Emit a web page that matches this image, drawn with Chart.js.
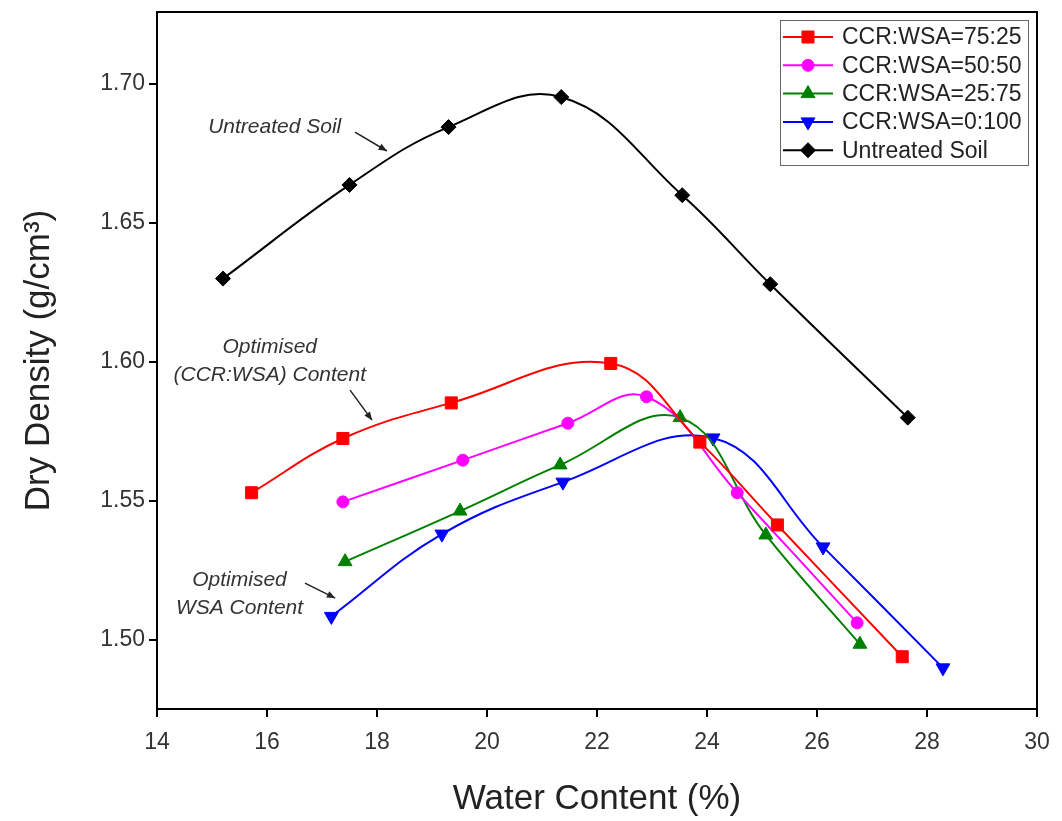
<!DOCTYPE html>
<html>
<head>
<meta charset="utf-8">
<script src="https://cdn.jsdelivr.net/npm/chart.js@4.4.1/dist/chart.umd.min.js"></script>
<style>
html, body { margin: 0; padding: 0; background: #fff; }
#wrap { width: 1062px; height: 821px; }
</style>
</head>
<body>
<div id="wrap"><canvas id="compactionChart" width="1062" height="821"></canvas></div>
<script>
// values
const seriesNames = ['CCR:WSA=75:25', 'CCR:WSA=50:50', 'CCR:WSA=25:75', 'CCR:WSA=0:100', 'Untreated Soil'];

const water7525 = [15.72, 17.38, 19.35, 22.25, 23.87, 25.28, 27.55];
const density7525 = [1.553, 1.5725, 1.5853, 1.5995, 1.5712, 1.5414, 1.494];

const water5050 = [17.38, 19.56, 21.47, 22.9, 24.55, 26.73];
const density5050 = [1.5497, 1.5647, 1.578, 1.5875, 1.553, 1.5062];

const water2575 = [17.42, 19.51, 21.33, 23.51, 25.07, 26.78];
const density2575 = [1.5282, 1.5464, 1.563, 1.58, 1.5378, 1.4985];

const water0100 = [17.17, 19.18, 21.38, 24.11, 26.11, 28.29];
const density0100 = [1.5085, 1.5381, 1.5568, 1.5727, 1.5335, 1.49];

const waterUntreated = [15.2, 17.5, 19.3, 21.35, 23.55, 25.15, 27.65];
const densityUntreated = [1.63, 1.6637, 1.6845, 1.6953, 1.66, 1.628, 1.58];

const xTicks = [14, 16, 18, 20, 22, 24, 26, 28, 30];
const yTicks = [1.50, 1.55, 1.60, 1.65, 1.70];

// callout texts, placed in data coordinates
const notes = [
    { lines: ['Untreated Soil'], x: 16.14, y: 1.6845, arrow: [17.6, 1.6827, 18.18, 1.6759] },
    { lines: ['Optimised', '(CCR:WSA) Content'], x: 16.05, y: 1.6054, arrow: [17.51, 1.5899, 17.91, 1.5791] },
    { lines: ['Optimised', 'WSA Content'], x: 15.5, y: 1.5216, arrow: [16.69, 1.5205, 17.24, 1.5151] }
];

const FONT = '"Liberation Sans", Arial, sans-serif';

function pairs(xs, ys) {
    return xs.map((x, i) => ({ x: x, y: ys[i] }));
}

function series(label, xs, ys, color, style, radius, rotation) {
    return {
        label: label,
        data: pairs(xs, ys),
        showLine: true,
        tension: 0.4,
        borderColor: color,
        borderWidth: 2,
        pointStyle: style,
        pointRadius: radius,
        pointHoverRadius: radius,
        pointRotation: rotation || 0,
        pointBackgroundColor: color,
        pointBorderColor: color,
        pointBorderWidth: 1
    };
}

const frameLines = {
    id: 'frameLines',
    afterDraw(chart) {
        const { ctx, chartArea: a } = chart;
        ctx.save();
        ctx.strokeStyle = '#000';
        ctx.lineWidth = 2;
        ctx.beginPath();
        ctx.moveTo(a.left, a.top);
        ctx.lineTo(a.right, a.top);
        ctx.lineTo(a.right, a.bottom);
        ctx.stroke();
        ctx.restore();
    }
};

const callouts = {
    id: 'callouts',
    afterDraw(chart) {
        const ctx = chart.ctx;
        const xs = chart.scales.x;
        const ys = chart.scales.y;
        ctx.save();
        ctx.strokeStyle = '#222';
        ctx.font = 'italic 21px ' + FONT;
        ctx.textAlign = 'center';
        ctx.textBaseline = 'middle';
        notes.forEach((n) => {
            const px = xs.getPixelForValue(n.x);
            const py = ys.getPixelForValue(n.y);
            ctx.fillStyle = '#333';
            n.lines.forEach((t, i) => ctx.fillText(t, px, py + i * 28));

            const x1 = xs.getPixelForValue(n.arrow[0]);
            const y1 = ys.getPixelForValue(n.arrow[1]);
            const x2 = xs.getPixelForValue(n.arrow[2]);
            const y2 = ys.getPixelForValue(n.arrow[3]);
            const ang = Math.atan2(y2 - y1, x2 - x1);
            ctx.lineWidth = 1.5;
            ctx.beginPath();
            ctx.moveTo(x1, y1);
            ctx.lineTo(x2, y2);
            ctx.stroke();
            ctx.beginPath();
            ctx.moveTo(x2, y2);
            ctx.lineTo(x2 - 9 * Math.cos(ang - 0.4), y2 - 9 * Math.sin(ang - 0.4));
            ctx.lineTo(x2 - 9 * Math.cos(ang + 0.4), y2 - 9 * Math.sin(ang + 0.4));
            ctx.closePath();
            ctx.fillStyle = '#222';
            ctx.fill();
        });
        ctx.restore();
    }
};

const legendBox = {
    id: 'legendBox',
    afterDraw(chart) {
        const ctx = chart.ctx;
        const x0 = 780, y0 = 20, w = 248, h = 145;
        ctx.save();
        ctx.strokeStyle = '#666';
        ctx.lineWidth = 1;
        ctx.strokeRect(x0 + 0.5, y0 + 0.5, w, h);
        ctx.font = '23px ' + FONT;
        ctx.textAlign = 'left';
        ctx.textBaseline = 'middle';
        chart.data.datasets.forEach((ds, i) => {
            const y = y0 + 17 + i * 28.3;
            ctx.strokeStyle = ds.borderColor;
            ctx.lineWidth = 2;
            ctx.beginPath();
            ctx.moveTo(x0 + 3, y);
            ctx.lineTo(x0 + 53, y);
            ctx.stroke();
            ctx.fillStyle = ds.pointBackgroundColor;
            ctx.strokeStyle = ds.pointBorderColor;
            ctx.lineWidth = 1;
            Chart.helpers.drawPoint(ctx, {
                pointStyle: ds.pointStyle,
                rotation: ds.pointRotation,
                radius: ds.pointRadius,
                borderWidth: 1
            }, x0 + 28, y);
            ctx.fillStyle = '#222';
            ctx.fillText(ds.label, x0 + 62, y + 1);
        });
        ctx.restore();
    }
};

const tickFont = { family: FONT, size: 23 };

new Chart(document.getElementById('compactionChart'), {
    type: 'scatter',
    data: {
        datasets: [
            series(seriesNames[0], water7525, density7525, '#ff0000', 'rect', 8.5),
            series(seriesNames[1], water5050, density5050, '#ff00ff', 'circle', 6),
            series(seriesNames[2], water2575, density2575, '#008000', 'triangle', 8),
            series(seriesNames[3], water0100, density0100, '#0000ff', 'triangle', 8, 180),
            series(seriesNames[4], waterUntreated, densityUntreated, '#000000', 'rectRot', 7.5)
        ]
    },
    options: {
        responsive: false,
        animation: false,
        layout: { padding: { left: 0, right: 25, top: 12, bottom: 0 } },
        plugins: {
            legend: { display: false },
            tooltip: { enabled: false }
        },
        scales: {
            x: {
                type: 'linear',
                min: 14,
                max: 30,
                afterBuildTicks: (s) => { s.ticks = xTicks.map((v) => ({ value: v })); },
                afterFit: (s) => { s.height = 112; s.paddingLeft = 0; s.paddingRight = 0; },
                ticks: { font: tickFont, color: '#333', padding: 12 },
                grid: { drawOnChartArea: false, drawTicks: true, tickLength: 8, color: '#000', lineWidth: 2 },
                border: { display: true, color: '#000', width: 2 },
                title: {
                    display: true,
                    text: 'Water Content (%)',
                    font: { family: FONT, size: 35 },
                    color: '#222',
                    padding: { top: 0, bottom: 1 }
                }
            },
            y: {
                type: 'linear',
                min: 1.4752,
                max: 1.7259,
                afterBuildTicks: (s) => { s.ticks = yTicks.map((v) => ({ value: v })); },
                afterFit: (s) => { s.width = 157; s.paddingTop = 0; s.paddingBottom = 0; },
                ticks: {
                    font: tickFont,
                    color: '#333',
                    padding: 4,
                    callback: (v) => Number(v).toFixed(2)
                },
                grid: { drawOnChartArea: false, drawTicks: true, tickLength: 8, color: '#000', lineWidth: 2 },
                border: { display: true, color: '#000', width: 2 },
                title: {
                    display: true,
                    text: 'Dry Density (g/cm³)',
                    font: { family: FONT, size: 35 },
                    color: '#222',
                    padding: { top: 18, bottom: 0 }
                }
            }
        }
    },
    plugins: [frameLines, callouts, legendBox]
});
</script>
</body>
</html>
